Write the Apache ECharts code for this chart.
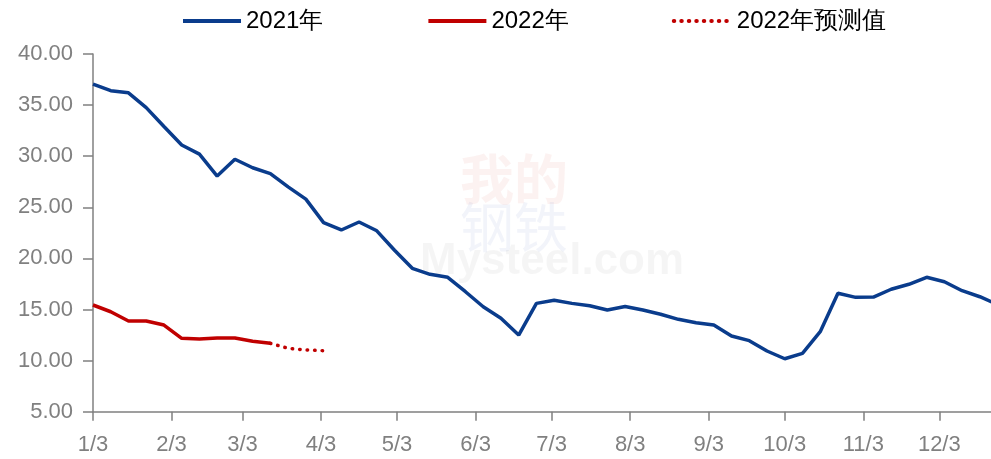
<!DOCTYPE html>
<html><head><meta charset="utf-8">
<script src="https://cdn.jsdelivr.net/npm/echarts@6/dist/echarts.min.js"></script>
<style>html,body{margin:0;padding:0;background:#fff}#c{width:991px;height:459px}</style>
</head><body><div id="c"></div>
<script>
var seriesNames = ['2021年', '2022年', '2022年预测值'];
var tickLabels = ['1/3','2/3','3/3','4/3','5/3','6/3','7/3','8/3','9/3','10/3','11/3','12/3'];
var weekDates = ['01-03','01-10','01-17','01-24','01-31','02-07','02-14','02-21','02-28','03-07','03-14','03-21','03-28',
  '04-04','04-11','04-18','04-25','05-02','05-09','05-16','05-23','05-30','06-06','06-13','06-20','06-27',
  '07-04','07-11','07-18','07-25','08-01','08-08','08-15','08-22','08-29','09-05','09-12','09-19','09-26',
  '10-03','10-10','10-17','10-24','10-31','11-07','11-14','11-21','11-28','12-05','12-12','12-19','12-26'];
var values2021 = [37.06,36.41,36.20,34.75,32.90,31.10,30.20,28.06,29.70,28.87,28.30,27.00,25.80,
  23.50,22.78,23.56,22.70,20.80,19.03,18.44,18.15,16.74,15.27,14.14,12.50,15.60,
  15.90,15.60,15.37,14.95,15.30,14.95,14.53,14.04,13.71,13.48,12.41,11.95,10.94,
  10.18,10.71,12.83,16.59,16.19,16.22,16.98,17.47,18.15,17.72,16.84,16.25,15.50];
var values2022 = [15.44,14.78,13.87,13.87,13.48,12.18,12.11,12.21,12.21,11.89,11.69];
var forecast2022 = [11.69,11.20,11.04,10.97];
var forecastStart = 10;
var yMin = 5, yMax = 40, yStep = 5;

// day offset from 3 Jan 2021 (axis position only)
var origin = Date.UTC(2021, 0, 3);
function dayOf(m, d){ return Math.round((Date.UTC(2021, m-1, d) - origin) / 86400000); }
function wk(md){ var p = md.split('-'); return dayOf(+p[0], +p[1]); }
function tk(lbl){ var p = lbl.split('/'); return dayOf(+p[0], +p[1]); }
var d2021 = values2021.map(function(v,i){ return [wk(weekDates[i]), v]; });
var d2022 = values2022.map(function(v,i){ return [wk(weekDates[i]), v]; });
var dFc = forecast2022.map(function(v,i){ return [wk(weekDates[forecastStart+i]), v]; });
var ticks = tickLabels.map(tk);

var gray = '#808080';
var font = '"Liberation Sans",Arial,sans-serif';
var chart = echarts.init(document.getElementById('c'));
chart.setOption({
  animation: false,
  backgroundColor: '#fff',
  textStyle: {fontFamily: font},
  legend: {
    top: 4, left: 176,
    itemWidth: 58, itemHeight: 14, itemGap: 103,
    itemStyle: {opacity: 0},
    lineStyle: {width: 4},
    textStyle: {fontSize: 24, color: '#000', fontFamily: font},
    data: seriesNames
  },
  graphic: [
    {type:'text', left: 460, top: 152, silent:true, style:{text:'我的', font:'bold 54px "Noto Sans CJK SC"', fill:'rgba(220,90,80,0.08)'}},
    {type:'text', left: 460, top: 200, silent:true, style:{text:'钢铁', font:'54px "Noto Sans CJK SC"', fill:'rgba(90,120,190,0.08)'}},
    {type:'text', left: 420, top: 240, silent:true, style:{text:'Mysteel.com', font:'bold 44px "Liberation Sans"', fill:'rgba(0,0,0,0.04)'}}
  ],
  grid: {left: 93, right: 0, top: 54, bottom: 47.3},
  xAxis: {
    type: 'value', min: 0, max: 354.4,
    axisLine: {show: true, onZero: false, lineStyle: {color: gray, width: 1.5}},
    axisTick: {show: true, length: 9, lineStyle: {color: gray, width: 1.5}, customValues: ticks},
    axisLabel: {customValues: ticks, color: gray, fontSize: 22, margin: 22, fontFamily: font,
      formatter: function(v){ var i = ticks.indexOf(v); return i >= 0 ? tickLabels[i] : ''; }},
    splitLine: {show: false}
  },
  yAxis: {
    type: 'value', min: yMin, max: yMax, interval: yStep,
    axisLine: {show: true, lineStyle: {color: gray, width: 1.5}},
    axisTick: {show: true, length: 10, lineStyle: {color: gray, width: 1.5}},
    axisLabel: {color: gray, fontSize: 22, margin: 20, fontFamily: font,
      formatter: function(v){ return v.toFixed(2); }},
    splitLine: {show: false}
  },
  series: [
    {name: seriesNames[0], type: 'line', data: d2021, showSymbol: false, symbol: 'none',
      color: '#0A3C8C', lineStyle: {width: 3.5, color: '#0A3C8C'}},
    {name: seriesNames[1], type: 'line', data: d2022, showSymbol: false, symbol: 'none',
      color: '#C00000', lineStyle: {width: 3.5, color: '#C00000'}},
    {name: seriesNames[2], type: 'line', data: dFc, showSymbol: false, symbol: 'none',
      color: '#C00000', lineStyle: {width: 3.5, color: '#C00000', type: [0.5, 7], cap: 'round'}}
  ]
});
</script></body></html>
